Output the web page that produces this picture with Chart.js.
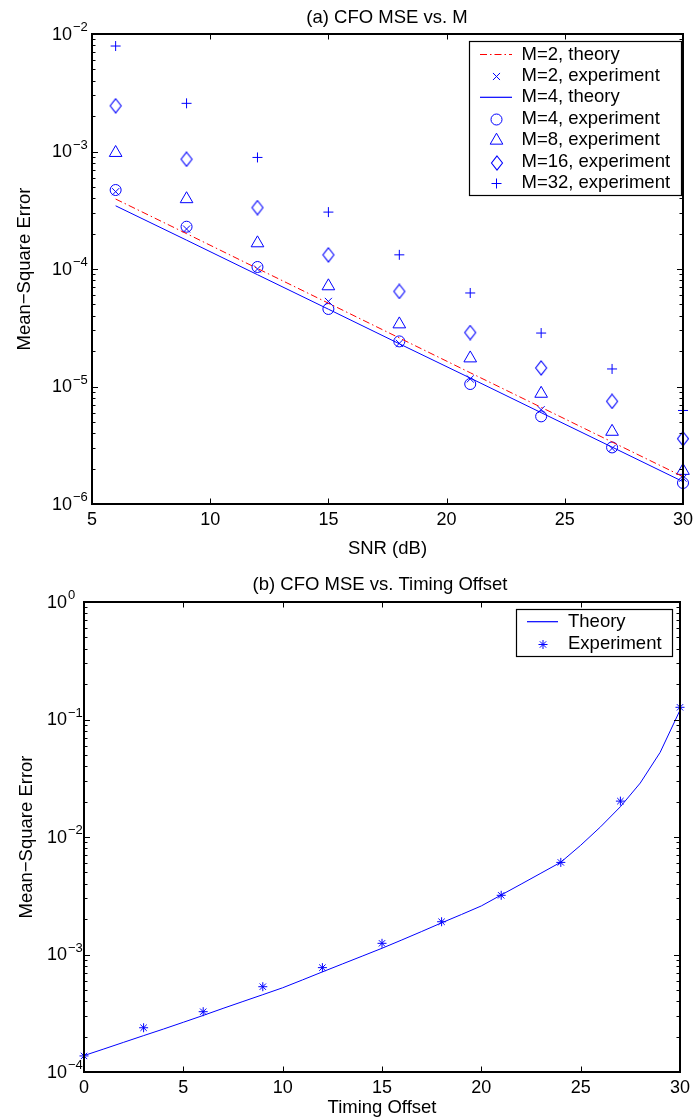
<!DOCTYPE html>
<html><head><meta charset="utf-8">
<script src="https://cdn.jsdelivr.net/npm/chart.js@4.4.1/dist/chart.umd.min.js"></script>
<style>
html,body{margin:0;padding:0;background:#fff;}
#wrap{position:relative;width:698px;height:1120px;background:#fff;}
canvas{position:absolute;left:0;}
</style>
</head><body>
<div id="wrap">
<canvas id="c1" width="698" height="560" style="top:0;width:698px;height:560px"></canvas>
<canvas id="c2" width="698" height="560" style="top:560px;width:698px;height:560px"></canvas>
</div>
<script>
// ---------- Data: (a) CFO MSE vs. M ----------
const snrDb = [6, 9, 12, 15, 18, 21, 24, 27, 30];
const m2Theory = [3.94e-4, 2.00e-4, 1.01e-4, 5.12e-5, 2.59e-5, 1.31e-5, 6.65e-6, 3.37e-6, 1.71e-6];
const m2Experiment = [4.55e-4, 2.19e-4, 1.0e-4, 5.3e-5, 2.33e-5, 1.16e-5, 6.35e-6, 2.97e-6, 1.66e-6];
const m4Theory = [3.45e-4, 1.76e-4, 8.94e-5, 4.55e-5, 2.31e-5, 1.18e-5, 5.99e-6, 3.05e-6, 1.55e-6];
const m4Experiment = [4.7e-4, 2.29e-4, 1.04e-4, 4.57e-5, 2.42e-5, 1.05e-5, 5.57e-6, 3.03e-6, 1.51e-6];
const m8Experiment = [9.75e-4, 3.94e-4, 1.66e-4, 7.15e-5, 3.39e-5, 1.74e-5, 8.7e-6, 4.13e-6, 1.92e-6];
const m16Experiment = [2.45e-3, 8.6e-4, 3.33e-4, 1.32e-4, 6.45e-5, 2.88e-5, 1.44e-5, 7.48e-6, 3.6e-6];
const m32Experiment = [7.9e-3, 2.57e-3, 8.9e-4, 3.05e-4, 1.32e-4, 6.25e-5, 2.85e-5, 1.41e-5, 6.25e-6];
const xTicksA = [5, 10, 15, 20, 25, 30];
const yTicksA = [1e-6, 1e-5, 1e-4, 1e-3, 1e-2];
const yExpA = ['\u22126', '\u22125', '\u22124', '\u22123', '\u22122'];

// ---------- Data: (b) CFO MSE vs. Timing Offset ----------
const offsetTheory = [0,1,2,3,4,5,6,7,8,9,10,11,12,13,14,15,16,17,18,19,20,21,22,23,24,25,26,27,28,29,30];
const mseTheory = [1.38e-4,1.57e-4,1.79e-4,2.04e-4,2.32e-4,2.65e-4,3.03e-4,3.48e-4,3.98e-4,4.55e-4,
  5.21e-4,6.08e-4,7.11e-4,8.30e-4,9.68e-4,1.13e-3,1.33e-3,1.57e-3,1.86e-3,2.19e-3,
  2.59e-3,3.21e-3,3.97e-3,4.92e-3,6.10e-3,8.5e-3,1.22e-2,1.81e-2,2.88e-2,5.25e-2,0.120];
const offsetExp = [0, 3, 6, 9, 12, 15, 18, 21, 24, 27, 30];
const mseExp = [1.37e-4, 2.38e-4, 3.26e-4, 5.32e-4, 7.73e-4, 1.245e-3, 1.9e-3, 3.19e-3, 6.08e-3, 2.02e-2, 0.127];
const xTicksB = [0, 5, 10, 15, 20, 25, 30];
const yTicksB = [1e-4, 1e-3, 1e-2, 1e-1, 1];
const yExpB = ['\u22124', '\u22123', '\u22122', '\u22121', '0'];

const FAM = '"Liberation Sans", Arial, Helvetica, sans-serif';
const BLUE = '#0000ff', RED = '#ff0000';

function pts(xs, ys) { return xs.map((x, i) => ({x: x, y: ys[i]})); }

// tall diamond marker (Matlab style)
const diamond = document.createElement('canvas');
diamond.width = 14; diamond.height = 16;
(function(){ const c = diamond.getContext('2d'); c.strokeStyle = BLUE; c.lineWidth = 1.1;
  c.beginPath(); c.moveTo(7, 1); c.lineTo(12.5, 8); c.lineTo(7, 15); c.lineTo(1.5, 8); c.closePath(); c.stroke(); })();

function drawMarker(ctx, style, r, x, y, color) {
  ctx.save(); ctx.strokeStyle = color; ctx.lineWidth = 1;
  if (style instanceof HTMLCanvasElement) { ctx.drawImage(style, Math.round(x - style.width/2), Math.round(y - style.height/2)); ctx.restore(); return; }
  ctx.beginPath();
  const d = r * Math.SQRT1_2;
  if (style === 'circle') ctx.arc(x, y, r, 0, Math.PI*2);
  if (style === 'cross' || style === 'star') { ctx.moveTo(x-r, y); ctx.lineTo(x+r, y); ctx.moveTo(x, y-r); ctx.lineTo(x, y+r); }
  if (style === 'crossRot' || style === 'star') { ctx.moveTo(x-d, y-d); ctx.lineTo(x+d, y+d); ctx.moveTo(x+d, y-d); ctx.lineTo(x-d, y+d); }
  if (style === 'triangle') { ctx.moveTo(x, y-r); ctx.lineTo(x+0.866*r, y+0.5*r); ctx.lineTo(x-0.866*r, y+0.5*r); ctx.closePath(); }
  ctx.stroke(); ctx.restore();
}

function framePlugin(cfg) {
  return {
    id: 'frame',
    afterDatasetsDraw(chart) {
      const ctx = chart.ctx, a = chart.chartArea, xs = chart.scales.x, ys = chart.scales.y;
      ctx.save();
      ctx.strokeStyle = '#000'; ctx.lineWidth = 1;
      ctx.beginPath();
      // minor log ticks
      for (let i = 0; i < cfg.yTicks.length - 1; i++) {
        const d = cfg.yTicks[i];
        for (let k = 2; k <= 9; k++) {
          const py = Math.round(ys.getPixelForValue(k*d)) + 0.5;
          ctx.moveTo(a.left, py); ctx.lineTo(a.left + 3.5, py);
          ctx.moveTo(a.right, py); ctx.lineTo(a.right - 3.5, py);
        }
      }
      cfg.yTicks.forEach(v => {
        const py = Math.round(ys.getPixelForValue(v)) + 0.5;
        ctx.moveTo(a.left, py); ctx.lineTo(a.left + 6, py);
        ctx.moveTo(a.right, py); ctx.lineTo(a.right - 6, py);
      });
      cfg.xTicks.forEach(v => {
        const px = Math.round(xs.getPixelForValue(v)) + 0.5;
        ctx.moveTo(px, a.bottom); ctx.lineTo(px, a.bottom - 5.5);
        ctx.moveTo(px, a.top); ctx.lineTo(px, a.top + 5.5);
      });
      ctx.stroke();
      ctx.lineWidth = 2;
      ctx.strokeRect(a.left, a.top, a.right - a.left, a.bottom - a.top);
      // y tick labels 10^n
      ctx.fillStyle = '#000';
      cfg.yTicks.forEach((v, i) => {
        const py = ys.getPixelForValue(v);
        ctx.font = '18px ' + FAM; ctx.textAlign = 'right'; ctx.textBaseline = 'middle';
        ctx.fillText('10', cfg.baseRight, py + 1);
        ctx.font = '13px ' + FAM; ctx.textAlign = 'left';
        ctx.fillText(cfg.yExp[i], cfg.baseRight + 1, py - 6.5);
      });
      // title
      ctx.font = '18.5px ' + FAM; ctx.textAlign = 'center'; ctx.textBaseline = 'middle';
      ctx.fillText(cfg.title, cfg.titleX, cfg.titleY);
      // legend
      const L = cfg.legend;
      ctx.fillStyle = '#fff';
      ctx.fillRect(L.x, L.y, L.w, L.h);
      ctx.lineWidth = 1.2; ctx.strokeStyle = '#000';
      ctx.strokeRect(L.x, L.y, L.w, L.h);
      chart.data.datasets.forEach((ds, i) => {
        const ry = L.row0 + i * L.step;
        if (ds.showLine) {
          ctx.save(); ctx.strokeStyle = ds.borderColor; ctx.lineWidth = 1.2;
          ctx.setLineDash(ds.borderDash || []);
          ctx.beginPath(); ctx.moveTo(L.s0, ry); ctx.lineTo(L.s1, ry); ctx.stroke(); ctx.restore();
        } else {
          drawMarker(ctx, ds.pointStyle, ds.pointRadius, (L.s0 + L.s1) / 2 + 0.5, Math.round(ry) + 0.5, ds.pointBorderColor);
        }
        ctx.fillStyle = '#000'; ctx.font = '18.5px ' + FAM; ctx.textAlign = 'left'; ctx.textBaseline = 'middle';
        ctx.fillText(ds.label, L.tx, ry);
      });
      ctx.restore();
    }
  };
}

function lineDs(label, data, color, dash) {
  return {label, data, showLine: true, borderColor: color, borderWidth: 1, borderDash: dash || [],
    pointRadius: 0, fill: false, tension: 0, clip: false};
}
function markDs(label, data, style, r) {
  return {label, data, showLine: false, pointStyle: style, pointRadius: r, pointBorderWidth: 1,
    pointBorderColor: BLUE, pointBackgroundColor: 'rgba(0,0,0,0)', borderColor: BLUE, clip: false};
}

function axisOpts(type, min, max, size, title, titlePad, extra) {
  return Object.assign({type, min, max, grid: {display: false, drawTicks: false}, border: {display: false},
    title: {display: true, text: title, color: '#000', font: {family: FAM, size: 18.5}, padding: titlePad},
    afterFit: s => { if (s.isHorizontal()) s.height = size; else s.width = size; }}, extra);
}

Chart.defaults.font.family = FAM;

new Chart(document.getElementById('c1'), {
  type: 'scatter',
  data: {datasets: [
    lineDs('M=2, theory', pts(snrDb, m2Theory), RED, [7, 3, 1.5, 3]),
    markDs('M=2, experiment', pts(snrDb, m2Experiment), 'crossRot', 5),
    lineDs('M=4, theory', pts(snrDb, m4Theory), BLUE),
    markDs('M=4, experiment', pts(snrDb, m4Experiment), 'circle', 5.5),
    markDs('M=8, experiment', pts(snrDb, m8Experiment), 'triangle', 7.3),
    markDs('M=16, experiment', pts(snrDb, m16Experiment), diamond, 6),
    markDs('M=32, experiment', pts(snrDb, m32Experiment), 'cross', 5)
  ]},
  options: {
    responsive: false, animation: false, events: [],
    layout: {padding: {left: 0, right: 10, top: 34, bottom: 0}},
    plugins: {legend: {display: false}, tooltip: {enabled: false}},
    scales: {
      x: axisOpts('linear', 5, 30, 56, 'SNR (dB)', {top: 0, bottom: 0},
        {ticks: {stepSize: 5, color: '#000', font: {size: 18}, padding: 5, maxRotation: 0}}),
      y: axisOpts('logarithmic', 1e-6, 1e-2, 92, 'Mean\u2212Square Error', {top: 14, bottom: 0},
        {ticks: {display: false}})
    }
  },
  plugins: [framePlugin({yTicks: yTicksA, yExp: yExpA, xTicks: xTicksA, baseRight: 72,
    title: '(a) CFO MSE vs. M', titleX: 387, titleY: 18,
    legend: {x: 469.5, y: 41.5, w: 212, h: 154, row0: 54.5, step: 21.4, s0: 480, s1: 512, tx: 521.5}})]
});

new Chart(document.getElementById('c2'), {
  type: 'scatter',
  data: {datasets: [
    lineDs('Theory', pts(offsetTheory, mseTheory), BLUE),
    markDs('Experiment', pts(offsetExp, mseExp), 'star', 4.5)
  ]},
  options: {
    responsive: false, animation: false, events: [],
    layout: {padding: {left: 0, right: 18, top: 42, bottom: 0}},
    plugins: {legend: {display: false}, tooltip: {enabled: false}},
    scales: {
      x: axisOpts('linear', 0, 30, 48, 'Timing Offset', {top: 0, bottom: 1},
        {ticks: {stepSize: 5, color: '#000', font: {size: 18}, padding: 5, maxRotation: 0}}),
      y: axisOpts('logarithmic', 1e-4, 1, 84, 'Mean\u2212Square Error', {top: 16, bottom: 0},
        {ticks: {display: false}})
    }
  },
  plugins: [framePlugin({yTicks: yTicksB, yExp: yExpB, xTicks: xTicksB, baseRight: 67,
    title: '(b) CFO MSE vs. Timing Offset', titleX: 380, titleY: 25,
    legend: {x: 516.5, y: 49.5, w: 156, h: 47, row0: 61.7, step: 22.3, s0: 527, s1: 558, tx: 568}})]
});
</script>
</body></html>
